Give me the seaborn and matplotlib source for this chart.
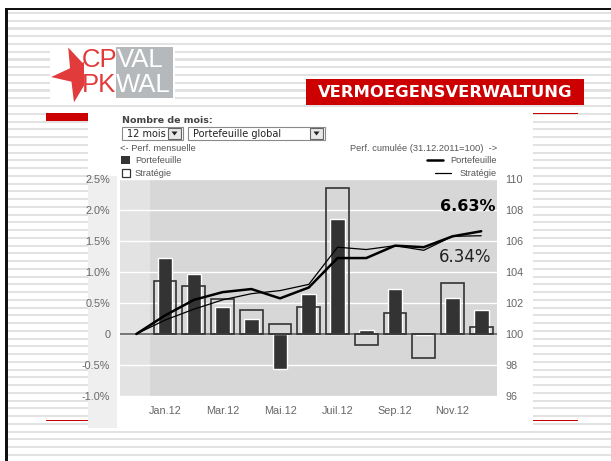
import numpy as np
import pandas as pd
import matplotlib
matplotlib.use("Agg")
import matplotlib.pyplot as plt
import seaborn as sns
from matplotlib.patches import Rectangle, Polygon

# ---------------- data ----------------
months = ["Jan.12", "Feb.12", "Mar.12", "Apr.12", "Mai.12", "Jun.12",
          "Juil.12", "Aug.12", "Sep.12", "Oct.12", "Nov.12", "Dec.12"]
tick_labels = ["Jan.12", "Mar.12", "Mai.12", "Juil.12", "Sep.12", "Nov.12"]
perf_portfolio = [1.23, 0.97, 0.44, 0.25, -0.56, 0.65, 1.85, 0.07, 0.72, -0.01, 0.58, 0.38]
perf_strategy = [0.86, 0.77, 0.57, 0.38, 0.16, 0.43, 2.36, -0.17, 0.34, -0.39, 0.83, 0.12]
cum_months = ["Dec.11"] + months
cum_portfolio = [100.0, 101.2, 102.2, 102.7, 102.9, 102.3, 103.0, 104.9, 104.9, 105.7, 105.6, 106.3, 106.63]
cum_strategy = [100.0, 100.9, 101.6, 102.2, 102.6, 102.8, 103.2, 105.6, 105.45, 105.7, 105.4, 106.3, 106.34]
left_ticks = [-1.0, -0.5, 0.0, 0.5, 1.0, 1.5, 2.0, 2.5]
left_tick_labels = ["-1.0%", "-0.5%", "0", "0.5%", "1.0%", "1.5%", "2.0%", "2.5%"]
right_ticks = [96, 98, 100, 102, 104, 106, 108, 110]
final_portfolio_label = "6.63%"
final_strategy_label = "6.34%"

NARROW = ["Liberation Sans Narrow", "Liberation Sans", "DejaVu Sans"]

sns.set_style("white")
plt.rcParams["font.family"] = ["DejaVu Sans"]

W, H = 611, 461
fig = plt.figure(figsize=(W / 100, H / 100), dpi=100)
fig.patch.set_facecolor("white")

# ---------------- slide background (pixel coordinates) ----------------
bg = fig.add_axes([0, 0, 1, 1])
bg.set_xlim(0, W)
bg.set_ylim(H, 0)
bg.axis("off")

for y in np.arange(12, H, 7.75):
    bg.add_patch(Rectangle((8, y), W - 8, 2.2, color="#e2e2e2", lw=0))
# frame
bg.add_patch(Rectangle((5, 8), 3, H - 8, color="#111111", lw=0))
bg.add_patch(Rectangle((5, 8), W - 5, 2.5, color="#111111", lw=0))

# logo
bg.add_patch(Rectangle((50, 45), 125, 56, color="white", lw=0))
bg.add_patch(Rectangle((116, 47), 57, 51, color="#b5b9bc", lw=0))
cx, cy, R, r = 80, 74, 29, 11.5
pts = []
for k in range(10):
    ang = np.deg2rad(186 + 36 * k)
    rad = R if k % 2 == 0 else r
    pts.append((cx + rad * np.cos(ang), cy - rad * np.sin(ang)))
star = Polygon(pts, closed=True, color="#e23b3b", lw=0)
bg.add_patch(star)
star.set_clip_path(Rectangle((40, 40), 44, 70, transform=bg.transData))
for txt, x, y, col in [("CP", 82, 60, "#e23b3b"), ("PK", 82, 85, "#e23b3b"),
                       ("VAL", 117, 60, "white"), ("WAL", 116, 85, "white")]:
    bg.text(x, y, txt, color=col, fontsize=18.5, va="center", ha="left",
            family=["Liberation Sans"])

# title box
bg.add_patch(Rectangle((306, 79), 278, 26, color="#cc0000", lw=0))
bg.text(445, 92.5, "VERMOEGENSVERWALTUNG", color="white", fontsize=11.8,
        fontweight="bold", ha="center", va="center")

# red accent lines
bg.add_patch(Rectangle((46, 113), 42, 8, color="#cc0000", lw=0))
bg.add_patch(Rectangle((533, 112.5), 45, 1.3, color="#cc0000", lw=0))
bg.add_patch(Rectangle((46, 419.5), 42, 1.3, color="#cc0000", lw=0))
bg.add_patch(Rectangle((533, 419.5), 45, 1.3, color="#cc0000", lw=0))

# chart panel
bg.add_patch(Rectangle((88, 108), 445, 320, color="white", lw=0))
bg.add_patch(Rectangle((88, 176), 29, 252, color="#efefef", lw=0))

# panel header controls
bg.text(122, 120, "Nombre de mois:", fontsize=6.8, fontweight="bold", color="#444444",
        va="center", ha="left")
for (x0, w, bx, label) in [(122, 61, 168, "12 mois"), (188, 137, 310, "Portefeuille global")]:
    bg.add_patch(Rectangle((x0, 126.5), w, 13.5, facecolor="white", edgecolor="#8a8a8a", lw=0.8))
    bg.add_patch(Rectangle((bx, 128), 13, 10.5, facecolor="#e8e8e8", edgecolor="#666666", lw=0.8))
    bg.add_patch(Polygon([(bx + 3.5, 131.5), (bx + 9.5, 131.5), (bx + 6.5, 135.5)],
                         closed=True, color="#222222", lw=0))
    bg.text(x0 + 5, 133.5, label, fontsize=7, color="#222222", va="center", ha="left")

lab_kw = dict(fontsize=6.7, color="#555555", va="center", family=NARROW)
bg.text(120, 148.5, "<- Perf. mensuelle", ha="left", **lab_kw)
bg.add_patch(Rectangle((121, 155.5), 8.5, 8, color="#333333", lw=0))
bg.text(135, 160, "Portefeuille", ha="left", **lab_kw)
bg.add_patch(Rectangle((121.5, 168.5), 8, 8, facecolor="white", edgecolor="#333333", lw=0.9))
bg.text(135, 173, "Stratégie", ha="left", **lab_kw)
bg.text(497, 148.5, "Perf. cumulée (31.12.2011=100)  ->", ha="right", **lab_kw)
bg.text(497, 160, "Portefeuille", ha="right", **lab_kw)
bg.plot([427, 443], [160.5, 160.5], color="black", lw=1.8)
bg.text(497, 173, "Stratégie", ha="right", **lab_kw)
bg.plot([435, 451], [173.5, 173.5], color="black", lw=0.9)

# ---------------- main chart ----------------
x0p, x1p, y0p, y1p = 120, 497, 179, 396
ax = fig.add_axes([x0p / W, 1 - y1p / H, (x1p - x0p) / W, (y1p - y0p) / H])
ax.set_facecolor("#d7d7d7")

pos = np.arange(len(months))
df = pd.DataFrame({"pos": pos, "month": months,
                   "portfolio": perf_portfolio, "strategy": perf_strategy})

ax.axvspan(-1.6, -0.52, color="#e3e3e3", lw=0, zorder=0)
ax.grid(axis="y", color="white", lw=1.0, zorder=0.5)
ax.grid(axis="x", visible=False)
ax.set_axisbelow(True)

sns.barplot(data=df, x="pos", y="portfolio", native_scale=True, width=0.51,
            color="#333333", saturation=1, errorbar=None, ax=ax, zorder=2)
sns.barplot(data=df, x="pos", y="strategy", native_scale=True, width=0.79,
            color="#333333", fill=False, errorbar=None, ax=ax, linewidth=1.2, zorder=3)
for p in ax.patches[-len(months):]:
    p.set_facecolor("none")
    p.set_edgecolor("#333333")
    p.set_linewidth(1.2)

ax.axhline(0, color="#6a6a6a", lw=1.3, zorder=2.5)

ax.set_xlim(-1.57, 11.55)
ax.set_ylim(-1.0, 2.5)
ax.set_xticks(pos[::2])
ax.set_xticklabels(tick_labels)
ax.set_yticks(left_ticks)
ax.set_yticklabels(left_tick_labels)
ax.set_xlabel("")
ax.set_ylabel("")
ax.tick_params(axis="both", length=0, colors="#666666")
ax.tick_params(axis="y", pad=7)
ax.tick_params(axis="x", pad=7)
for t in ax.get_xticklabels() + ax.get_yticklabels():
    t.set_family(NARROW)
    t.set_fontsize(7.8)
for s in ax.spines.values():
    s.set_visible(False)

ax2 = ax.twinx()
cum_pos = np.arange(-1, len(months))
sns.lineplot(x=cum_pos, y=cum_portfolio, ax=ax2, color="black", lw=1.8)
sns.lineplot(x=cum_pos, y=cum_strategy, ax=ax2, color="black", lw=0.9)
ax2.set_ylim(96, 110)
ax2.set_yticks(right_ticks)
ax2.set_yticklabels([str(v) for v in right_ticks])
ax2.set_ylabel("")
ax2.tick_params(axis="y", length=0, colors="#666666", pad=6)
for t in ax2.get_yticklabels():
    t.set_family(NARROW)
    t.set_fontsize(7.8)
for s in ax2.spines.values():
    s.set_visible(False)
ax2.set_xlim(-1.57, 11.55)

ax2.text(10.54, 108.25, final_portfolio_label, fontsize=11.5, fontweight="bold",
         color="black", ha="center", va="center")
ax2.text(10.45, 104.95, final_strategy_label, fontsize=12, color="#222222",
         ha="center", va="center")

fig.savefig("out.png", dpi=100)
